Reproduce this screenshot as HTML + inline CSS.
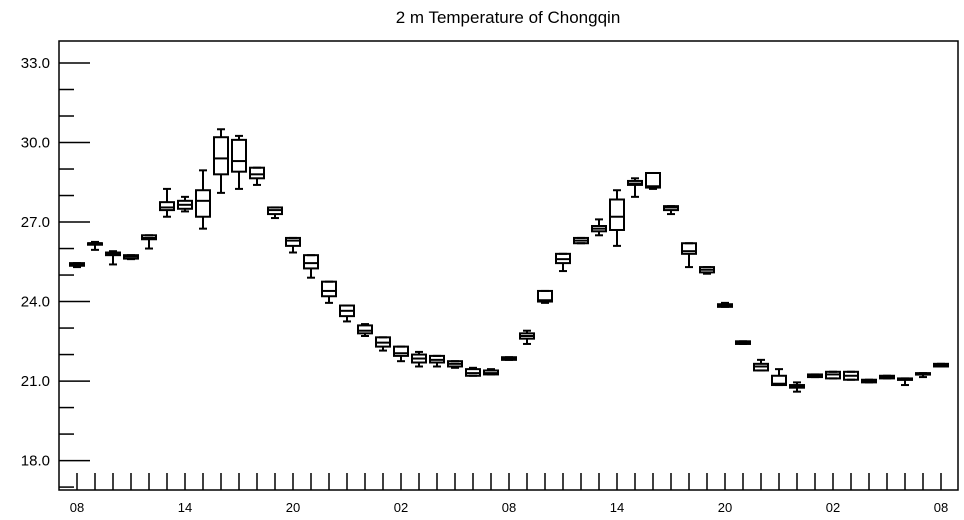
<!DOCTYPE html>
<html><head><meta charset="utf-8"><style>
html,body{margin:0;padding:0;background:#fff;}
svg{display:block;font-family:"Liberation Sans",Helvetica,sans-serif;}
</style></head><body>
<svg id="chart" width="964" height="520">
<text x="508" y="23" text-anchor="middle" font-size="17">2 m Temperature of Chongqin</text>
<rect x="59" y="41" width="899" height="449" fill="none" stroke="#000" stroke-width="1.5"/>
<g id="axes"></g>
<g id="boxes"></g>
</svg>
<script>
const xLabels = ["08","14","20","02","08","14","20","02","08"];
const yTicks = [18,21,24,27,30,33];
const mins = [25.3,25.95,25.4,25.6,26.0,27.2,27.4,26.75,28.1,28.25,28.4,27.15,25.85,24.9,23.95,23.25,22.7,22.15,21.75,21.55,21.55,21.5,21.2,21.25,21.8,22.4,23.95,25.15,26.2,26.5,26.1,27.95,28.25,27.3,25.3,25.05,23.8,22.4,21.4,20.85,20.6,21.15,21.1,21.05,20.95,21.1,20.85,21.15,21.55];
const q1s = [25.35,26.15,25.75,25.62,26.35,27.45,27.5,27.2,28.8,28.9,28.65,27.3,26.1,25.25,24.2,23.45,22.8,22.3,21.95,21.7,21.7,21.55,21.2,21.25,21.8,22.6,24.0,25.45,26.2,26.65,26.7,28.4,28.3,27.45,25.8,25.1,23.8,22.4,21.4,20.85,20.75,21.15,21.1,21.05,20.95,21.1,21.05,21.25,21.55];
const medians = [25.4,26.2,25.8,25.7,26.4,27.55,27.65,27.8,29.4,29.3,28.8,27.45,26.3,25.45,24.4,23.65,22.9,22.45,22.05,21.85,21.8,21.65,21.3,21.3,21.85,22.7,24.05,25.6,26.3,26.75,27.2,28.45,28.35,27.55,25.9,25.2,23.85,22.45,21.55,20.9,20.8,21.2,21.25,21.2,21.0,21.15,21.08,21.28,21.6];
const q3s = [25.45,26.2,25.85,25.75,26.5,27.75,27.8,28.2,30.2,30.1,29.05,27.55,26.4,25.75,24.75,23.85,23.1,22.65,22.3,22.0,21.95,21.75,21.45,21.4,21.9,22.8,24.4,25.8,26.4,26.85,27.85,28.55,28.85,27.6,26.2,25.3,23.9,22.5,21.65,21.2,20.85,21.25,21.35,21.35,21.05,21.2,21.1,21.3,21.65];
const maxs = [25.45,26.25,25.9,25.75,26.5,28.25,27.95,28.95,30.5,30.25,29.05,27.55,26.4,25.75,24.75,23.85,23.15,22.65,22.3,22.1,21.95,21.75,21.5,21.45,21.9,22.9,24.4,25.8,26.4,27.1,28.2,28.65,28.85,27.6,26.2,25.3,23.95,22.5,21.8,21.45,20.95,21.25,21.35,21.35,21.05,21.2,21.1,21.3,21.65];

const NS="http://www.w3.org/2000/svg";
const yMin=16.89, yMax=33.83, plotTop=41, plotBottom=490;
function yScale(v){return plotBottom-(v-yMin)/(yMax-yMin)*(plotBottom-plotTop);}
function xScale(i){return 77+i*18;}
function mk(tag,attrs,parent){const e=document.createElementNS(NS,tag);for(const k in attrs)e.setAttribute(k,attrs[k]);parent.appendChild(e);return e;}
const axes=document.getElementById('axes'), boxes=document.getElementById('boxes');
for(let v=17; v<=33; v++){
  const y=yScale(v), major=yTicks.includes(v);
  const t=mk('line',{x1:59,x2:major?90:74,y1:y,y2:y,stroke:'#000','stroke-width':1.5},axes);
  
  
}
yTicks.forEach(v=>{
  const t=mk('text',{x:50,y:yScale(v)+5,'text-anchor':'end','font-size':15},axes);
  t.textContent=v.toFixed(1);
  
  
});
for(let i=0;i<medians.length;i++){
  const x=xScale(i);
  const t=mk('line',{x1:x,x2:x,y1:473,y2:490,stroke:'#000','stroke-width':1.5},axes);
  
  
}
xLabels.forEach((l,k)=>{
  const t=mk('text',{x:xScale(k*6),y:512,'text-anchor':'middle','font-size':13},axes);
  t.textContent=l;
  
  
});
for(let i=0;i<medians.length;i++){
  const x=xScale(i), w=14;
  const g=mk('g',{stroke:'#000','stroke-width':2,fill:'none'},boxes);
  
  
  mk('line',{x1:x,x2:x,y1:yScale(maxs[i]),y2:yScale(q3s[i])},g);
  mk('line',{x1:x,x2:x,y1:yScale(q1s[i]),y2:yScale(mins[i])},g);
  mk('line',{x1:x-4,x2:x+4,y1:yScale(maxs[i]),y2:yScale(maxs[i])},g);
  mk('line',{x1:x-4,x2:x+4,y1:yScale(mins[i]),y2:yScale(mins[i])},g);
  const yt=yScale(q3s[i]), yb=yScale(q1s[i]);
  mk('rect',{x:x-w/2,y:yt,width:w,height:Math.max(yb-yt,1.5)},g);
  mk('line',{x1:x-w/2,x2:x+w/2,y1:yScale(medians[i]),y2:yScale(medians[i])},g);
}
</script>
</body></html>
